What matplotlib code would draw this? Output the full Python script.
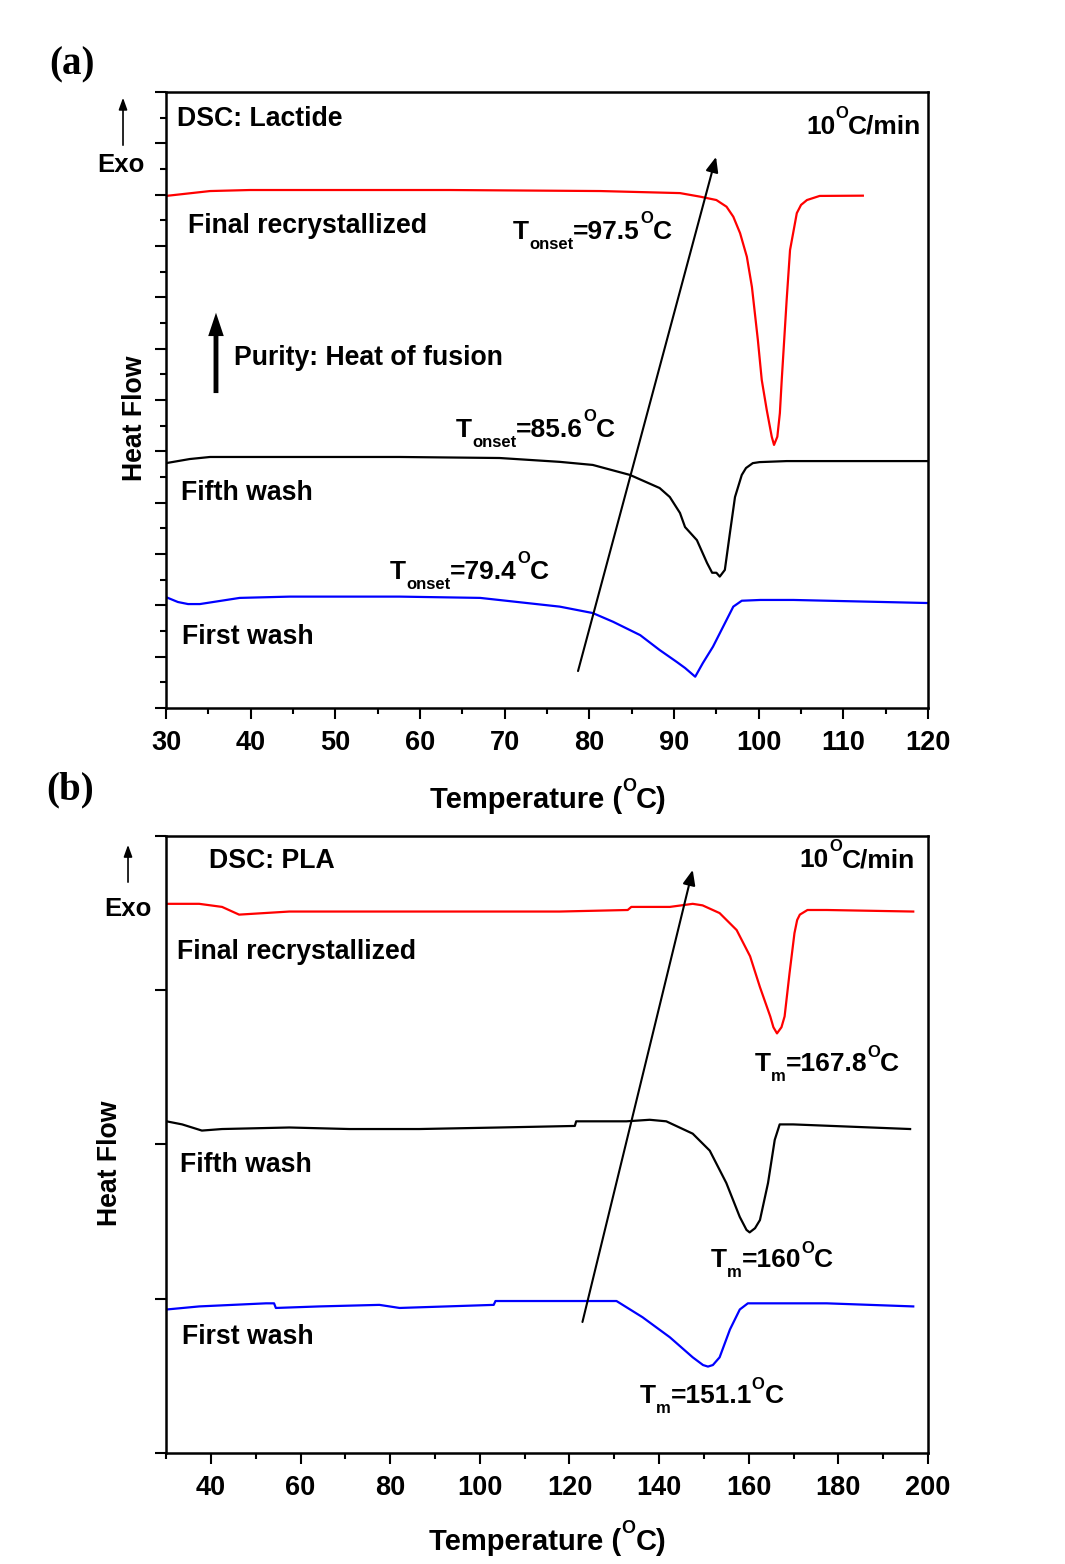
import matplotlib
matplotlib.use('Agg')
import matplotlib.pyplot as plt
from matplotlib.patches import FancyArrowPatch
from matplotlib.ticker import MultipleLocator, NullFormatter

plt.rcParams['font.family'] = ['Liberation Sans', 'DejaVu Sans']
plt.rcParams['font.weight'] = 'bold'

# (a) Lactide - temperatura (C) e fluxo de calor (u.a.)
lac_final_t = [30.0, 35.2, 39.9, 63.5, 81.3, 90.7, 93.1, 95.0, 96.2, 97.0, 97.8, 98.6, 99.2, 99.9,
               100.36, 100.95, 101.54, 101.81, 102.2, 102.5, 102.72, 103.3, 103.7, 104.5, 105.0,
               105.7, 107.2, 112.3]
lac_final_h = [19.95, 20.14, 20.18, 20.18, 20.14, 20.06, 19.92, 19.79, 19.53, 19.14, 18.50, 17.58, 16.40, 14.34,
               12.78, 11.61, 10.57, 10.25, 10.57, 11.49, 12.78, 15.89, 17.84, 19.28, 19.60,
               19.79, 19.95, 19.96]

lac_fifth_t = [30.0, 32.8, 35.2, 45.8, 57.6, 69.4, 76.5, 80.4, 84.8, 88.3, 89.5, 90.7, 91.3, 92.7, 93.9,
               94.5, 95.0, 95.4, 96.0, 96.6, 97.2, 98.0, 98.5, 99.3, 100.1, 103.3, 120.0]
lac_fifth_h = [9.54, 9.70, 9.78, 9.78, 9.78, 9.74, 9.59, 9.47, 9.08, 8.57, 8.22, 7.60, 7.05, 6.54, 5.65,
               5.27, 5.27, 5.12, 5.38, 6.82, 8.22, 9.08, 9.35, 9.54, 9.58, 9.62, 9.62]

lac_first_t = [30.0, 31.4, 32.6, 34.0, 38.7, 44.6, 57.6, 67.1, 76.5, 80.4, 82.8, 86.0, 88.3, 90.3, 91.3,
               92.5, 93.4, 94.6, 95.8, 97.0, 98.0, 100.2, 104.1, 120.0]
lac_first_h = [4.32, 4.13, 4.05, 4.05, 4.29, 4.34, 4.34, 4.29, 3.95, 3.70, 3.36, 2.84, 2.26, 1.80, 1.56,
               1.22, 1.75, 2.39, 3.17, 3.95, 4.18, 4.21, 4.21, 4.09]

# (b) PLA
pla_final_t = [30.1, 37.4, 42.5, 46.3, 57.5, 82.1, 117.8, 133.0, 133.8, 142.4, 147.5, 149.7, 153.5, 157.3,
               160.3, 162.5, 164.8, 165.5, 166.3, 167.3, 168.0, 169.1, 170.2, 170.8, 171.4, 173.1,
               177.4, 196.7]
pla_final_h = [3.56, 3.56, 3.54, 3.49, 3.51, 3.51, 3.51, 3.52, 3.54, 3.54, 3.56, 3.55, 3.50, 3.39,
               3.22, 3.02, 2.83, 2.76, 2.72, 2.76, 2.83, 3.11, 3.37, 3.455, 3.49, 3.52,
               3.52, 3.51]

pla_fifth_t = [30.1, 33.6, 38.0, 42.5, 57.5, 70.9, 86.5, 104.4, 121.2, 121.5, 132.7, 137.9, 141.6, 147.5,
               151.3, 155.0, 158.0, 159.5, 160.2, 161.4, 162.5, 164.3, 165.8, 166.9, 169.9, 196.0]
pla_fifth_h = [2.15, 2.13, 2.09, 2.10, 2.11, 2.10, 2.10, 2.11, 2.12, 2.15, 2.15, 2.16, 2.15, 2.07,
               1.96, 1.75, 1.53, 1.446, 1.43, 1.457, 1.51, 1.75, 2.03, 2.13, 2.13, 2.10]

pla_first_t = [30.1, 37.4, 52.3, 54.1, 54.5, 64.2, 77.6, 82.1, 103.1, 103.5, 117.8, 130.5, 136.3, 142.4,
               147.5, 149.8, 150.9, 152.0, 153.5, 155.8, 158.0, 159.8, 177.4, 196.7]
pla_first_h = [0.93, 0.95, 0.97, 0.97, 0.94, 0.95, 0.96, 0.94, 0.96, 0.985, 0.985, 0.985, 0.88, 0.75,
               0.62, 0.57, 0.56, 0.57, 0.62, 0.80, 0.93, 0.97, 0.97, 0.95]

fs = 19.2
fs_t = 19
fs_eixo = 21
fs_pequeno = 12

fig = plt.figure(figsize=(10.65, 15.64), dpi=100)
ax1 = fig.add_axes([0.1559, 0.5473, 0.7155, 0.3939])
ax2 = fig.add_axes([0.1559, 0.0710, 0.7155, 0.3945])
renderer = fig.canvas.get_renderer()


def estilo(ax):
    for s in ax.spines.values():
        s.set_linewidth(1.8)
    ax.tick_params(which='major', direction='out', length=8, width=1.5, labelsize=19.5, pad=8,
                   top=False, right=False)
    ax.tick_params(which='minor', direction='out', length=4.5, width=1.5, top=False, right=False)
    ax.yaxis.set_major_formatter(NullFormatter())
    ax.yaxis.set_minor_formatter(NullFormatter())


def rotulo(ax, x, y, pecas, coords='data'):
    # escreve pedacos de texto em sequencia (subscrito/sobrescrito com deslocamento em pixels)
    dx = 0
    for txt, tam, dy in pecas:
        t = ax.annotate(txt, xy=(x, y), xycoords=coords, xytext=(dx, dy), textcoords='offset pixels',
                        fontsize=tam, va='baseline', ha='left')
        dx += t.get_window_extent(renderer).width


def t_rotulo(ax, x, y, sub, valor, sup=16):
    rotulo(ax, x, y, [('T', fs_t, 0), (sub, fs_pequeno, -10), (valor, fs_t, 0),
                      ('O', fs_pequeno, sup), ('C', fs_t, 0)])


# Painel (a)
ax1.plot(lac_final_t, lac_final_h, color='#ff0000', lw=1.6)
ax1.plot(lac_fifth_t, lac_fifth_h, color='black', lw=1.6)
ax1.plot(lac_first_t, lac_first_h, color='#0000ff', lw=1.6)
ax1.set_xlim(30, 120)
ax1.set_ylim(0, 24)
ax1.xaxis.set_major_locator(MultipleLocator(10))
ax1.xaxis.set_minor_locator(MultipleLocator(5))
ax1.yaxis.set_major_locator(MultipleLocator(2))
ax1.yaxis.set_minor_locator(MultipleLocator(1))
estilo(ax1)

ax1.text(31.3, 22.95, 'DSC: Lactide', fontsize=fs, va='center')
rotulo(ax1, 105.59, 22.38, [('10', fs_t, 0), ('O', fs_pequeno, 16), ('C/min', fs_t, 0)])
ax1.text(32.6, 18.78, 'Final recrystallized', fontsize=fs, va='center')
t_rotulo(ax1, 70.98, 18.27, 'onset', '=97.5')
ax1.text(38.0, 13.63, 'Purity: Heat of fusion', fontsize=fs, va='center')
t_rotulo(ax1, 64.25, 10.54, 'onset', '=85.6')
ax1.text(31.8, 8.38, 'Fifth wash', fontsize=fs, va='center')
t_rotulo(ax1, 56.46, 5.01, 'onset', '=79.4')
ax1.text(31.9, 2.77, 'First wash', fontsize=fs, va='center')

ax1.annotate('', xy=(94.96, 21.47), xytext=(78.66, 1.44),
             arrowprops=dict(arrowstyle='-|>,head_length=0.6,head_width=0.25', lw=1.5, color='black',
                             mutation_scale=15, shrinkA=0, shrinkB=0))
ax1.annotate('', xy=(35.9, 15.4), xytext=(35.9, 12.27),
             arrowprops=dict(arrowstyle='simple,head_length=1.2,head_width=0.8,tail_width=0.25',
                             fc='black', ec='none', mutation_scale=14, shrinkA=0, shrinkB=0))

rotulo(ax1, 0.3465, -0.1615, [('Temperature (', fs_eixo, 0), ('O', 13, 17), ('C)', fs_eixo, 0)],
       coords='axes fraction')
ax1.text(-0.0407, 0.471, 'Heat Flow', fontsize=fs, ha='center', va='center', rotation=90,
         transform=ax1.transAxes)

# Painel (b)
ax2.plot(pla_final_t, pla_final_h, color='#ff0000', lw=1.6)
ax2.plot(pla_fifth_t, pla_fifth_h, color='black', lw=1.6)
ax2.plot(pla_first_t, pla_first_h, color='#0000ff', lw=1.6)
ax2.set_xlim(30, 200)
ax2.set_ylim(0, 4)
ax2.xaxis.set_major_locator(MultipleLocator(20))
ax2.xaxis.set_minor_locator(MultipleLocator(10))
ax2.yaxis.set_major_locator(MultipleLocator(1))
estilo(ax2)

ax2.text(39.6, 3.84, 'DSC: PLA', fontsize=fs, va='center')
rotulo(ax2, 171.4, 3.796, [('10', fs_t, 0), ('O', fs_pequeno, 16), ('C/min', fs_t, 0)])
ax2.text(32.5, 3.25, 'Final recrystallized', fontsize=fs, va='center')
t_rotulo(ax2, 161.37, 2.473, 'm', '=167.8', sup=14)
ax2.text(33.1, 1.87, 'Fifth wash', fontsize=fs, va='center')
t_rotulo(ax2, 151.54, 1.203, 'm', '=160', sup=14)
ax2.text(33.6, 0.75, 'First wash', fontsize=fs, va='center')
t_rotulo(ax2, 135.67, 0.321, 'm', '=151.1', sup=14)

ax2.annotate('', xy=(147.5, 3.78), xytext=(122.9, 0.849),
             arrowprops=dict(arrowstyle='-|>,head_length=0.6,head_width=0.25', lw=1.5, color='black',
                             mutation_scale=15, shrinkA=0, shrinkB=0))

rotulo(ax2, 0.3456, -0.158, [('Temperature (', fs_eixo, 0), ('O', 13, 17), ('C)', fs_eixo, 0)],
       coords='axes fraction')
ax2.text(-0.0735, 0.47, 'Heat Flow', fontsize=fs, ha='center', va='center', rotation=90,
         transform=ax2.transAxes)

# Rotulos dos paineis e setas Exo
fig.text(0.0676, 0.9584, '(a)', fontsize=28, family='Liberation Serif', weight='bold',
         ha='center', va='center')
fig.text(0.0657, 0.4949, '(b)', fontsize=28, family='Liberation Serif', weight='bold',
         ha='center', va='center')
fig.text(0.1136, 0.8945, 'Exo', fontsize=18.5, ha='center', va='center')
fig.text(0.1202, 0.4188, 'Exo', fontsize=18.5, ha='center', va='center')
for xa, y0, y1 in [(0.1155, 0.9054, 0.9393), (0.1202, 0.4342, 0.4616)]:
    fig.add_artist(FancyArrowPatch(
        (xa, y0), (xa, y1), transform=fig.transFigure,
        arrowstyle='-|>,head_length=0.5,head_width=0.18', mutation_scale=14, lw=1.2, color='black'))

plt.savefig('out.png', dpi=100, facecolor='white')
